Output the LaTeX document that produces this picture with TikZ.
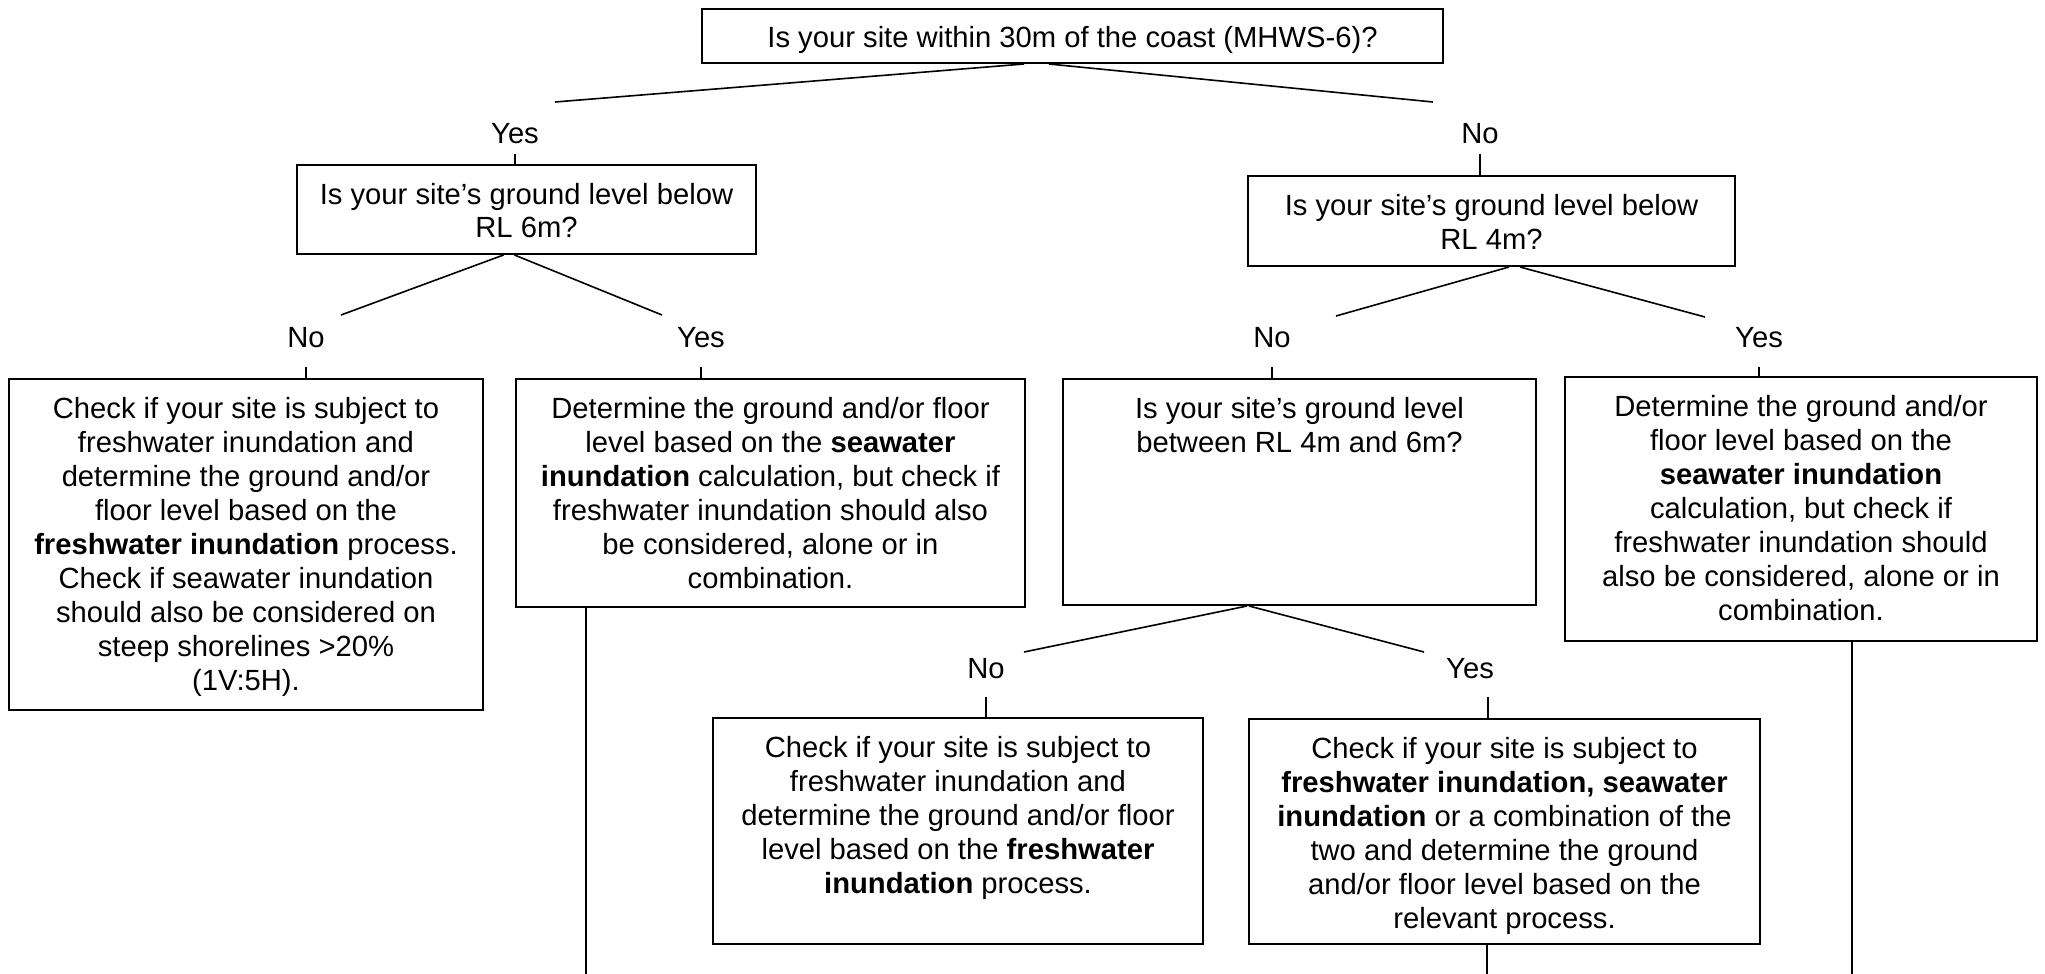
\documentclass[tikz,border=0pt]{standalone}
\usepackage{fontspec}
\setmainfont{Liberation Sans}
\usepackage{tikz}
\newcommand{\cellbox}[3]{\parbox[t][#2][t]{#1}{\centering\rule{0pt}{19.5pt}#3}}

\begin{document}
\begin{tikzpicture}[x=0.5pt,y=-0.5pt,
  font=\fontsize{14.6pt}{17pt}\selectfont,
  box/.style={draw,line width=1pt,inner sep=0pt,anchor=north west},
  lbl/.style={inner sep=5pt,text height=10.5pt,text depth=0pt},
  link/.style={line width=0.8pt}]
  \useasboundingbox (0,0) rectangle (2045,974);
  % questions
  \node[box] (q1) at (701,8) {\cellbox{370.5pt}{27pt}{Is your site within 30m of the coast (MHWS-6)?}};
  \node[box] (q2) at (296,164) {\cellbox{229.5pt}{44.5pt}{Is your site’s ground level below\\RL 6m?}};
  \node[box] (q3) at (1247,175) {\cellbox{243.5pt}{45pt}{Is your site’s ground level below\\RL 4m?}};
  \node[box] (q4) at (1062,378) {\cellbox{236.5pt}{113pt}{Is your site’s ground level\\between RL 4m and 6m?}};
  % answers
  \node[box] (a1) at (8,378) {\cellbox{237pt}{165.5pt}{Check if your site is subject to\\freshwater inundation and\\determine the ground and/or\\floor level based on the\\\textbf{freshwater inundation} process.\\Check if seawater inundation\\should also be considered on\\steep shorelines >20\%\\(1V:5H).}};
  \node[box] (a2) at (515,378) {\cellbox{254.5pt}{114pt}{Determine the ground and/or floor\\level based on the \textbf{seawater}\\\textbf{inundation} calculation, but check if\\freshwater inundation should also\\be considered, alone or in\\combination.}};
  \node[box] (a3) at (1564,376) {\cellbox{236pt}{132pt}{Determine the ground and/or\\floor level based on the\\\textbf{seawater inundation}\\calculation, but check if\\freshwater inundation should\\also be considered, alone or in\\combination.}};
  \node[box] (a4) at (712,717) {\cellbox{245pt}{113pt}{Check if your site is subject to\\freshwater inundation and\\determine the ground and/or floor\\level based on the \textbf{freshwater}\\\textbf{inundation} process.}};
  \node[box] (a5) at (1248,718) {\cellbox{255.5pt}{112.5pt}{Check if your site is subject to\\\textbf{freshwater inundation, seawater}\\\textbf{inundation} or a combination of the\\two and determine the ground\\and/or floor level based on the\\relevant process.}};
  % yes / no
  \node[lbl] (y1) at (515,133) {Yes};
  \node[lbl] (n1) at (1480,133) {No};
  \node[lbl,inner ysep=9.5pt] (n2) at (306,337) {No};
  \node[lbl,inner ysep=9.5pt] (y2) at (701,337) {Yes};
  \node[lbl,inner ysep=9.5pt] (n3) at (1272,337) {No};
  \node[lbl,inner ysep=9.5pt] (y3) at (1759,337) {Yes};
  \node[lbl,inner ysep=9pt] (n4) at (986,668) {No};
  \node[lbl,inner ysep=9pt] (y4) at (1470,668) {Yes};
  % free ends
  \coordinate (q1l) at (555,102);
  \coordinate (q1r) at (1433,102);
  \coordinate (q2l) at (341,315);
  \coordinate (q2r) at (662,315);
  \coordinate (q3l) at (1336,316);
  \coordinate (q3r) at (1705,317);
  \coordinate (q4l) at (1024,652);
  \coordinate (q4r) at (1424,652);
  \coordinate (a2end) at (586,974);
  \coordinate (a3end) at (1852,974);
  \coordinate (a5end) at (1487,974);
  % branches
  \path[link] ([xshift=-24.25pt]q1.south) edge (q1l) ([xshift=-11.75pt]q1.south) edge (q1r)
    ([xshift=-11.5pt]q2.south) edge (q2l) ([xshift=-6pt]q2.south) edge (q2r)
    ([xshift=8.75pt]q3.south) edge (q3l) ([xshift=14.25pt]q3.south) edge (q3r)
    ([xshift=-26.25pt]q4.south) edge (q4l) ([xshift=-25.25pt]q4.south) edge (q4r);
  % ticks
  \path[link] (y1.south) edge (y1.south |- q2.north) (n1.south) edge (n1.south |- q3.north)
    (n2.south) edge (n2.south |- a1.north) (y2.south) edge (y2.south |- a2.north)
    (n3.south) edge (n3.south |- q4.north) (y3.south) edge (y3.south |- a3.north)
    (n4.south) edge (n4.south |- a4.north)
    ([xshift=9pt]y4.south) edge ([xshift=9pt]y4.south |- a5.north);
  % down the page
  \path[link] (a2.south -| a2end) edge (a2end) (a3.south -| a3end) edge (a3end)
    (a5.south -| a5end) edge (a5end);
\end{tikzpicture}
\end{document}
